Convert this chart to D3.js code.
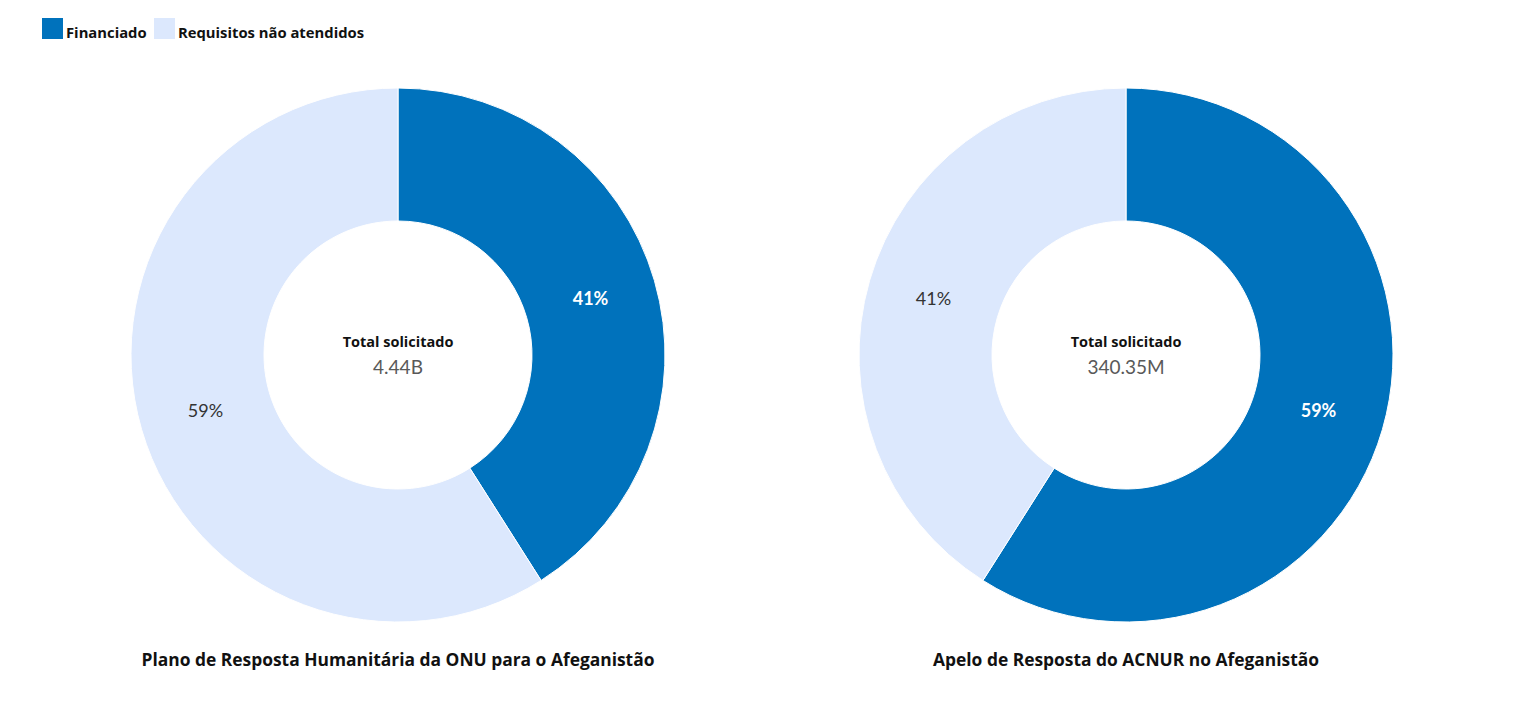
<!DOCTYPE html>
<html>
<head>
<meta charset="utf-8">
<script src="https://cdn.jsdelivr.net/npm/d3@7"></script>
<style>
  body { margin: 0; background: #fff; }
  svg text { font-family: "Open Sans", Lato, sans-serif; }
  .pct { font-family: Lato, sans-serif; font-size: 18px; }
  .total { font-family: Lato, sans-serif; font-size: 19px; fill: #595959; }
</style>
</head>
<body>
<svg id="chart"></svg>
<script>
var w = 1520
var h = 703

// data
var plans = ["Plano de Resposta Humanitária da ONU para o Afeganistão", "Apelo de Resposta do ACNUR no Afeganistão"]
var totals = ["4.44B", "340.35M"]
var funded = [41, 59]
var unmet = [59, 41]
var series = ["Financiado", "Requisitos não atendidos"]

var colors = d3.scaleOrdinal().domain(series).range(["#0072BC", "#DCE8FD"])
var labelColors = d3.scaleOrdinal().domain(series).range(["#ffffff", "#333333"])

var svg = d3.select("#chart")
  .attr("width", w)
  .attr("height", h)

var xscale = d3.scaleBand()
  .domain(plans)
  .range([34, 1490])

var cy = 355
var outerR = 267
var innerR = 134

var pie = d3.pie().sort(null).value(function(d){ return d.value })
var arc = d3.arc().innerRadius(innerR).outerRadius(outerR)
var labelArc = d3.arc().innerRadius((innerR + outerR) / 2).outerRadius((innerR + outerR) / 2)

plans.forEach(function(p, i)
{
  var slices = [
    {key: series[0], value: funded[i]},
    {key: series[1], value: unmet[i]}
  ]
  var g = svg.append("g")
    .attr("transform", "translate(" + (xscale(p) + xscale.bandwidth() / 2) + "," + cy + ")")

  var arcs = pie(slices)

  g.selectAll("path")
    .data(arcs)
    .enter()
    .append("path")
    .attr("d", arc)
    .attr("fill", function(d){ return colors(d.data.key) })
    .attr("stroke", "#fff")
    .attr("stroke-width", 1)

  g.selectAll("text.pct")
    .data(arcs)
    .enter()
    .append("text")
    .classed("pct", true)
    .attr("transform", function(d){ return "translate(" + labelArc.centroid(d) + ")" })
    .attr("text-anchor", "middle")
    .attr("dy", "0.35em")
    .attr("fill", function(d){ return labelColors(d.data.key) })
    .style("font-weight", function(d){ return d.data.key == series[0] ? "bold" : "normal" })
    .text(function(d){ return d.data.value + "%" })

  g.append("text")
    .text("Total solicitado")
    .attr("text-anchor", "middle")
    .attr("y", -8)
    .style("font-weight", "bold")
    .style("font-size", "14.5px")
    .attr("fill", "#111")

  g.append("text")
    .classed("total", true)
    .text(totals[i])
    .attr("text-anchor", "middle")
    .attr("y", 19)

  g.append("text")
    .text(p)
    .attr("text-anchor", "middle")
    .attr("y", 311)
    .style("font-weight", "bold")
    .style("font-size", "17.4px")
    .attr("fill", "#111")
})

// legend
var legend = svg.append("g").attr("transform", "translate(42,18)")
var lx = [0, 112]
series.forEach(function(s, i)
{
  var item = legend.append("g").attr("transform", "translate(" + lx[i] + ",0)")
  item.append("rect")
    .attr("width", 21)
    .attr("height", 21)
    .attr("fill", colors(s))
  item.append("text")
    .text(s)
    .attr("x", 24)
    .attr("y", 20)
    .style("font-weight", "bold")
    .style("font-size", "14.8px")
    .attr("fill", "#111")
})
</script>
</body>
</html>
